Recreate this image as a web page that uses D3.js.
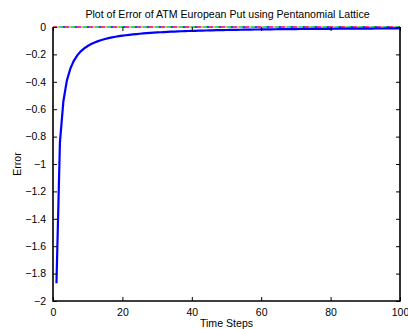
<!DOCTYPE html>
<html>
<head>
<meta charset="utf-8">
<script src="https://cdn.jsdelivr.net/npm/d3@7"></script>
<style>
  body { margin: 0; background: #fff; }
  text { font-family: "Liberation Sans", Arial, sans-serif; }
</style>
</head>
<body>
<svg id="chart"></svg>
<script>
// error of ATM european put vs number of time steps
const steps = d3.range(1, 101);
const errorValues = [
  -1.87, -0.84, -0.54, -0.39, -0.304, -0.247, -0.207, -0.178, -0.156, -0.139,
  -0.1245, -0.1128, -0.103, -0.0948, -0.0877, -0.0815, -0.0761, -0.0714, -0.0671, -0.0633,
  -0.0600, -0.0570, -0.0542, -0.0516, -0.0492, -0.0470, -0.0450, -0.0431, -0.0414, -0.0398,
  -0.0383, -0.0369, -0.0356, -0.0344, -0.0332, -0.0321, -0.0311, -0.0301, -0.0292, -0.0284,
  -0.0276, -0.0268, -0.0261, -0.0254, -0.0247, -0.0241, -0.0235, -0.0229, -0.0224, -0.0219,
  -0.0214, -0.0209, -0.0205, -0.0200, -0.0196, -0.0192, -0.0188, -0.0184, -0.0181, -0.0177,
  -0.0174, -0.0171, -0.0168, -0.0165, -0.0162, -0.0159, -0.0157, -0.0154, -0.0152, -0.0149,
  -0.0147, -0.0145, -0.0143, -0.0141, -0.0139, -0.0137, -0.0135, -0.0133, -0.0131, -0.0130,
  -0.0128, -0.0126, -0.0125, -0.0123, -0.0122, -0.0120, -0.0119, -0.0117, -0.0116, -0.0115,
  -0.0113, -0.0112, -0.0111, -0.0110, -0.0108, -0.0107, -0.0106, -0.0105, -0.0104, -0.0103
];
const xTicks = [0, 20, 40, 60, 80, 100];
const yTicks = [0, -0.2, -0.4, -0.6, -0.8, -1, -1.2, -1.4, -1.6, -1.8, -2];
// the zero reference lines drawn along the top edge
const zeroColors = ['#ff0000', '#bf00bf', '#bfbf00', '#00bfbf', '#00bf00', '#0000ff'];

const W = 408, H = 329;
const margin = { top: 27, right: 8, bottom: 28, left: 53 };
const w = W - margin.left - margin.right;
const h = H - margin.top - margin.bottom;

const svg = d3.select('#chart').attr('width', W).attr('height', H);
const g = svg.append('g').attr('transform', `translate(${margin.left},${margin.top})`);

const x = d3.scaleLinear().domain([0, 100]).range([0, w]);
const y = d3.scaleLinear().domain([-2, 0]).range([h, 0]);

const fmt = d => (d < 0 ? '\u2212' : '') + Math.abs(d);

// zero lines (dotted, several colours)
zeroColors.forEach((c, i) => {
  g.append('line')
    .attr('x1', x(0)).attr('x2', x(100))
    .attr('y1', y(0)).attr('y2', y(0))
    .attr('stroke', c)
    .attr('stroke-width', 1.5)
    .attr('stroke-dasharray', '2,10')
    .attr('stroke-dashoffset', -i * 2);
});

// curve
const line = d3.line()
  .x((d, i) => x(steps[i]))
  .y(d => y(d));

g.append('path')
  .datum(errorValues)
  .attr('fill', 'none')
  .attr('stroke', '#0000ff')
  .attr('stroke-width', 2.2)
  .attr('d', line);

// axes, matlab style ticks pointing inward
const tickLen = 4;
const xAxis = g.append('g').attr('transform', `translate(0,${h})`)
  .call(d3.axisBottom(x).tickValues(xTicks).tickSize(-tickLen).tickPadding(8).tickFormat(d => d));
const yAxis = g.append('g')
  .call(d3.axisLeft(y).tickValues(yTicks).tickSize(-tickLen).tickPadding(7).tickFormat(fmt));
const xTop = g.append('g')
  .call(d3.axisTop(x).tickValues(xTicks).tickSize(-tickLen).tickFormat(''));
const yRight = g.append('g').attr('transform', `translate(${w},0)`)
  .call(d3.axisRight(y).tickValues(yTicks).tickSize(-tickLen).tickFormat(''));

[xAxis, yAxis, xTop, yRight].forEach(a => {
  a.select('.domain').remove();
  a.selectAll('.tick line').attr('stroke', '#000').attr('stroke-width', 1);
  a.selectAll('text').attr('font-size', 10.5).attr('fill', '#000')
    .style('font-family', '"Liberation Sans", Arial, sans-serif');
});

// box
g.append('path')
  .attr('d', `M0,0V${h}H${w}V0`)
  .attr('fill', 'none')
  .attr('stroke', '#000')
  .attr('stroke-width', 1.6);

// labels
svg.append('text')
  .attr('x', margin.left + w / 2 + 1)
  .attr('y', 18)
  .attr('text-anchor', 'middle')
  .attr('font-size', 10.6)
  .text('Plot of Error of ATM European Put using Pentanomial Lattice');

svg.append('text')
  .attr('x', margin.left + w / 2)
  .attr('y', 327)
  .attr('text-anchor', 'middle')
  .attr('font-size', 10.6)
  .text('Time Steps');

svg.append('text')
  .attr('transform', `translate(21,${margin.top + h / 2}) rotate(-90)`)
  .attr('text-anchor', 'middle')
  .attr('font-size', 10.6)
  .text('Error');
</script>
</body>
</html>
